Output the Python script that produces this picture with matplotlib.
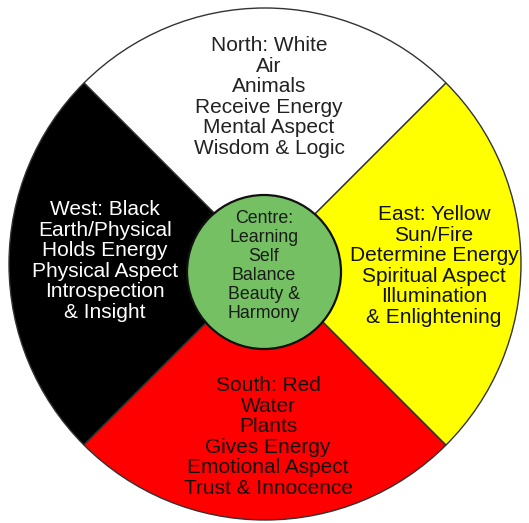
import matplotlib.pyplot as plt
from matplotlib.patches import Circle

# quadrants, in pie order (start at 45 deg, counter-clockwise): N, W, S, E
directions = ["North", "West", "South", "East"]
shares = [1, 1, 1, 1]
colours = ["#ffffff", "#000000", "#ff0000", "#ffff00"]
text_colours = ["#222222", "#ffffff", "#111111", "#111111"]
labels = [
    "North: White\nAir\nAnimals\nReceive Energy\nMental Aspect\nWisdom & Logic",
    "West: Black\nEarth/Physical\nHolds Energy\nPhysical Aspect\nIntrospection\n& Insight",
    "South: Red\nWater\nPlants\nGives Energy\nEmotional Aspect\nTrust & Innocence",
    "East: Yellow\nSun/Fire\nDetermine Energy\nSpiritual Aspect\nIllumination\n& Enlightening",
]
centre_label = "Centre:\nLearning\nSelf\nBalance\nBeauty &\nHarmony"
centre_colour = "#74c062"

W, H = 529, 523
fig = plt.figure(figsize=(W / 100, H / 100), dpi=100)
ax = fig.add_axes([0, 0, 1, 1])

# outer wheel (pixel coords, y flipped)
cx, cy, R = 265, H - 264, 256
ax.pie(shares, colors=colours, startangle=45, counterclock=True,
       center=(cx, cy), radius=R, frame=True,
       wedgeprops=dict(edgecolor="#333333", linewidth=1.0))
ax.set_xlim(0, W)
ax.set_ylim(0, H)
ax.set_aspect("equal")
ax.axis("off")

ax.add_patch(Circle((264, H - 272), 77, facecolor=centre_colour,
                    edgecolor="#111111", linewidth=1.6, zorder=5))

font = dict(family=["Liberation Sans", "DejaVu Sans"], ha="center", va="center",
            fontsize=15, linespacing=1.11)
pos = {"North": (269, H - 97), "West": (105, H - 261),
       "South": (268, H - 437), "East": (434, H - 266)}
for d, lab, tc in zip(directions, labels, text_colours):
    ax.text(*pos[d], lab, color=tc, zorder=6, **font)

ax.text(264, H - 266, centre_label, color="#1a1a1a", zorder=6,
        **{**font, "fontsize": 12.8, "linespacing": 1.16})

fig.savefig("out.png", dpi=100)
